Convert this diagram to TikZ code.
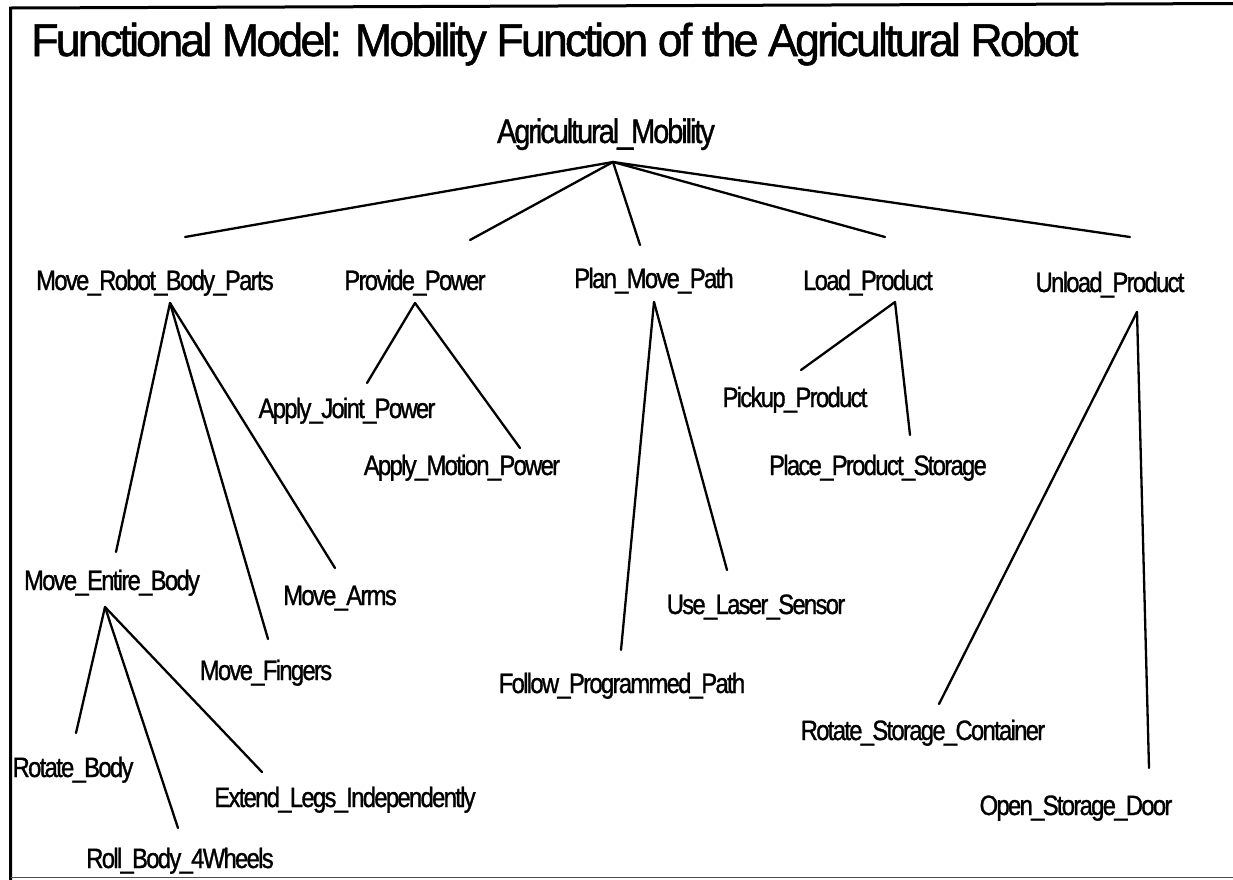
\documentclass[tikz,border=0pt]{standalone}
\usepackage{fontspec}
\newfontfamily\diafont{Liberation Sans}[FakeStretch=0.85, LetterSpace=-6, FakeBold=1.1]
\newfontfamily\headfont{Liberation Sans}[FakeStretch=0.97, LetterSpace=-6, FakeBold=1.1]
\begin{document}
\begin{tikzpicture}[x=1pt,y=-1pt,
  fn/.style={font=\diafont\fontsize{28}{30}\selectfont, inner sep=0pt, anchor=base},
  rootfn/.style={fn, font=\diafont\fontsize{34}{36}\selectfont},
  titlefn/.style={font=\headfont\fontsize{46}{50}\selectfont, inner sep=0pt, anchor=base},
  link/.style={line width=2.3pt, line cap=round}]
\useasboundingbox (0,0) rectangle (1233,879);
\fill[white] (0,0) rectangle (1233,879);

% frame
\draw[line width=3pt] (1240,3.5) -- (10.5,8) -- (10.5,885);
\draw[line width=1.5pt, black!70] (10.5,877.5) -- (1240,877.5);

% title
\node[titlefn] (title) at (555,56) {Functional Model: Mobility Function of the Agricultural Robot};

% function tree
\node[rootfn] (root) at (606,143) {Agricultural\_Mobility};

\node[fn] (mrbp) at (155,290) {Move\_Robot\_Body\_Parts};
\node[fn] (pp)   at (415,290) {Provide\_Power};
\node[fn] (pmp)  at (654,288) {Plan\_Move\_Path};
\node[fn] (lp)   at (868,290) {Load\_Product};
\node[fn] (up)   at (1110,292) {Unload\_Product};

\node[fn] (ajp)  at (347,418) {Apply\_Joint\_Power};
\node[fn] (amp)  at (462,475) {Apply\_Motion\_Power};
\node[fn] (pup)  at (795,407) {Pickup\_Product};
\node[fn] (pps)  at (878,475) {Place\_Product\_Storage};

\node[fn] (meb)  at (112,590) {Move\_Entire\_Body};
\node[fn] (ma)   at (340,605) {Move\_Arms};
\node[fn] (mf)   at (266,680) {Move\_Fingers};
\node[fn] (uls)  at (756,614) {Use\_Laser\_Sensor};
\node[fn] (fpp)  at (622,693) {Follow\_Programmed\_Path};
\node[fn] (rsc)  at (923,740) {Rotate\_Storage\_Container};
\node[fn] (osd)  at (1076,815) {Open\_Storage\_Door};

\node[fn] (rb)   at (73,777) {Rotate\_Body};
\node[fn] (rb4)  at (180,868) {Roll\_Body\_4Wheels};
\node[fn] (eli)  at (345,807) {Extend\_Legs\_Independently};

% connector ends: o = below a parent, i = above a child
\coordinate (root-o) at (613,162);
\coordinate (mrbp-i) at (185,237);
\coordinate (pp-i)   at (470,240);
\coordinate (pmp-i)  at (640,245);
\coordinate (lp-i)   at (885,237);
\coordinate (up-i)   at (1130,237);

\coordinate (mrbp-o) at (170,303);
\coordinate (meb-i)  at (116,552);
\coordinate (mf-i)   at (268,639);
\coordinate (ma-i)   at (335,568);

\coordinate (meb-o)  at (105,607);
\coordinate (rb-i)   at (76,733);
\coordinate (rb4-i)  at (178,828);
\coordinate (eli-i)  at (262,772);

\coordinate (pp-o)   at (415,303);
\coordinate (ajp-i)  at (367,383);
\coordinate (amp-i)  at (520,448);

\coordinate (pmp-o)  at (654,302);
\coordinate (fpp-i)  at (621,650);
\coordinate (uls-i)  at (727,570);

\coordinate (lp-o)   at (895,302);
\coordinate (pup-i)  at (801,370);
\coordinate (pps-i)  at (910,435);

\coordinate (up-o)   at (1137,312);
\coordinate (rsc-i)  at (939,704);
\coordinate (osd-i)  at (1149,768);

\foreach \p/\c in {root/mrbp, root/pp, root/pmp, root/lp, root/up,
                   mrbp/meb, mrbp/mf, mrbp/ma,
                   meb/rb, meb/rb4, meb/eli,
                   pp/ajp, pp/amp,
                   pmp/fpp, pmp/uls,
                   lp/pup, lp/pps,
                   up/rsc, up/osd}
  \draw[link] (\p-o) -- (\c-i);
\end{tikzpicture}
\end{document}
